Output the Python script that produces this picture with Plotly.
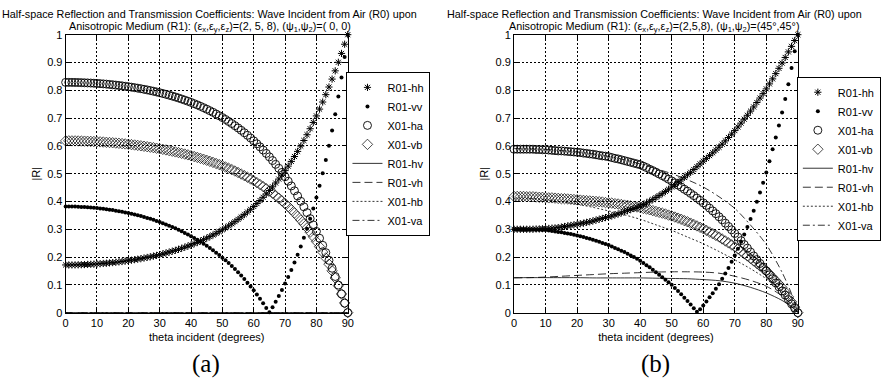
import plotly.graph_objects as go

# ---------------- data ----------------
THETA_DEG = list(range(0, 91))          # incidence angle, 1-degree steps
THETA_LINE_A = [0, 90]
THETA_LINE_B = [0, 5, 10, 15, 20, 25, 30, 35, 40, 45, 50, 55, 60, 65, 70, 75, 80, 85, 88, 90]

LEGEND_NAMES = ["R01-hh", "R01-vv", "X01-ha", "X01-vb", "R01-hv", "R01-vh", "X01-hb", "X01-va"]
X_TICKS = [0, 10, 20, 30, 40, 50, 60, 70, 80, 90]
Y_TICKS = [0, 0.1, 0.2, 0.3, 0.4, 0.5, 0.6, 0.7, 0.8, 0.9, 1]
Y_TICK_TEXT = ["0", "0.1", "0.2", "0.3", "0.4", "0.5", "0.6", "0.7", "0.8", "0.9", "1"]

# panel (a): psi = (0, 0)
A_R01_HH = [0.1716,0.1716,0.1717,0.1719,0.1721,0.1725,0.1730,0.1735,0.1740,0.1746,
            0.1753,0.1761,0.1770,0.1779,0.1790,0.1801,0.1814,0.1827,0.1841,0.1856,
            0.1871,0.1888,0.1906,0.1924,0.1944,0.1965,0.1987,0.2010,0.2035,0.2060,
            0.2087,0.2116,0.2145,0.2176,0.2209,0.2242,0.2278,0.2315,0.2354,0.2394,
            0.2437,0.2481,0.2527,0.2576,0.2626,0.2680,0.2735,0.2793,0.2853,0.2916,
            0.2981,0.3050,0.3122,0.3196,0.3274,0.3355,0.3440,0.3528,0.3620,0.3717,
            0.3820,0.3925,0.4035,0.4150,0.4271,0.4396,0.4527,0.4664,0.4806,0.4955,
            0.5110,0.5272,0.5441,0.5617,0.5801,0.5993,0.6193,0.6401,0.6617,0.6843,
            0.7078,0.7323,0.7577,0.7842,0.8117,0.8402,0.8699,0.9007,0.9326,0.9657,1.0]
A_R01_VV = [0.3820,0.3820,0.3819,0.3816,0.3812,0.3805,0.3799,0.3792,0.3783,0.3773,
            0.3762,0.3750,0.3737,0.3722,0.3706,0.3689,0.3670,0.3650,0.3629,0.3607,
            0.3583,0.3558,0.3531,0.3503,0.3473,0.3442,0.3409,0.3374,0.3338,0.3300,
            0.3260,0.3219,0.3175,0.3129,0.3082,0.3033,0.2981,0.2927,0.2870,0.2811,
            0.2751,0.2687,0.2620,0.2550,0.2478,0.2404,0.2326,0.2244,0.2159,0.2070,
            0.1978,0.1882,0.1782,0.1677,0.1567,0.1453,0.1334,0.1209,0.1079,0.0943,
            0.0802,0.0654,0.0499,0.0336,0.0166,0.0012,0.0199,0.0395,0.0601,0.0817,
            0.1045,0.1284,0.1536,0.1802,0.2082,0.2378,0.2691,0.3023,0.3374,0.3746,
            0.4142,0.4564,0.5013,0.5492,0.6004,0.6553,0.7142,0.7776,0.8460,0.9199,1.0]
A_X01_HA = [0.8284,0.8284,0.8283,0.8281,0.8279,0.8275,0.8270,0.8265,0.8260,0.8254,
            0.8247,0.8239,0.8230,0.8221,0.8210,0.8199,0.8186,0.8173,0.8159,0.8144,
            0.8129,0.8112,0.8094,0.8076,0.8056,0.8035,0.8013,0.7990,0.7965,0.7940,
            0.7913,0.7884,0.7855,0.7824,0.7791,0.7758,0.7722,0.7685,0.7646,0.7606,
            0.7563,0.7519,0.7473,0.7424,0.7374,0.7320,0.7265,0.7207,0.7147,0.7084,
            0.7019,0.6950,0.6878,0.6804,0.6726,0.6645,0.6560,0.6472,0.6380,0.6283,
            0.6180,0.6075,0.5965,0.5850,0.5729,0.5604,0.5473,0.5336,0.5194,0.5045,
            0.4890,0.4728,0.4559,0.4383,0.4199,0.4007,0.3807,0.3599,0.3383,0.3157,
            0.2922,0.2677,0.2423,0.2158,0.1883,0.1598,0.1301,0.0993,0.0674,0.0343,0.0]
A_X01_VB = [0.6180,0.6180,0.6179,0.6178,0.6176,0.6173,0.6170,0.6166,0.6161,0.6156,
            0.6150,0.6144,0.6137,0.6129,0.6121,0.6112,0.6102,0.6092,0.6081,0.6070,
            0.6058,0.6045,0.6031,0.6017,0.6002,0.5986,0.5970,0.5953,0.5935,0.5916,
            0.5895,0.5875,0.5854,0.5831,0.5808,0.5783,0.5758,0.5732,0.5705,0.5677,
            0.5647,0.5617,0.5585,0.5552,0.5518,0.5482,0.5445,0.5407,0.5367,0.5326,
            0.5283,0.5239,0.5193,0.5145,0.5095,0.5041,0.4986,0.4929,0.4870,0.4809,
            0.4745,0.4678,0.4609,0.4536,0.4460,0.4380,0.4297,0.4210,0.4118,0.4022,
            0.3921,0.3816,0.3704,0.3587,0.3464,0.3333,0.3196,0.3050,0.2896,0.2733,
            0.2560,0.2375,0.2179,0.1969,0.1745,0.1505,0.1248,0.0971,0.0672,0.0350,0.0]
A_R01_HV = [0.0, 0.0]
A_R01_VH = [0.0, 0.0]
A_X01_HB = [0.0, 0.0]
A_X01_VA = [0.0, 0.0]

# panel (b): psi = (45deg, 45deg)
B_R01_HH = [0.300,0.300,0.300,0.300,0.300,0.300,0.300,0.301,0.301,0.302,
            0.302,0.303,0.304,0.305,0.306,0.308,0.310,0.312,0.314,0.316,
            0.318,0.320,0.322,0.325,0.327,0.330,0.333,0.336,0.339,0.342,
            0.345,0.348,0.352,0.355,0.359,0.363,0.367,0.371,0.375,0.379,
            0.383,0.389,0.395,0.401,0.407,0.414,0.421,0.428,0.436,0.444,
            0.452,0.460,0.469,0.478,0.487,0.496,0.505,0.515,0.525,0.535,
            0.545,0.555,0.565,0.575,0.585,0.595,0.606,0.618,0.630,0.642,
            0.655,0.668,0.682,0.696,0.710,0.725,0.740,0.756,0.772,0.788,
            0.805,0.823,0.841,0.860,0.879,0.898,0.918,0.938,0.958,0.979,1.000]
B_R01_VV = [0.300,0.300,0.300,0.300,0.299,0.299,0.299,0.298,0.298,0.297,
            0.297,0.296,0.294,0.292,0.290,0.289,0.287,0.285,0.283,0.280,
            0.278,0.275,0.272,0.269,0.266,0.262,0.259,0.255,0.251,0.247,
            0.243,0.238,0.233,0.228,0.223,0.218,0.212,0.206,0.200,0.194,
            0.187,0.179,0.171,0.163,0.154,0.145,0.136,0.127,0.118,0.109,
            0.100,0.089,0.078,0.066,0.054,0.042,0.029,0.016,0.003,0.012,
            0.026,0.040,0.055,0.070,0.086,0.102,0.122,0.141,0.161,0.183,
            0.206,0.230,0.255,0.281,0.308,0.337,0.367,0.399,0.432,0.467,
            0.504,0.545,0.588,0.630,0.673,0.720,0.769,0.822,0.880,0.940,1.000]
B_X01_HA = [0.588,0.588,0.588,0.588,0.588,0.588,0.588,0.587,0.587,0.586,
            0.586,0.585,0.584,0.583,0.582,0.582,0.581,0.580,0.579,0.578,
            0.577,0.576,0.574,0.573,0.571,0.570,0.568,0.566,0.564,0.563,
            0.561,0.558,0.555,0.553,0.550,0.547,0.544,0.541,0.538,0.535,
            0.532,0.527,0.522,0.516,0.511,0.505,0.499,0.493,0.487,0.480,
            0.474,0.467,0.459,0.452,0.444,0.437,0.429,0.421,0.412,0.404,
            0.395,0.386,0.376,0.366,0.356,0.345,0.334,0.322,0.310,0.298,
            0.285,0.272,0.259,0.245,0.232,0.218,0.204,0.191,0.177,0.164,
            0.150,0.136,0.122,0.107,0.093,0.078,0.063,0.047,0.032,0.016,0.000]
B_X01_VB = [0.418,0.418,0.418,0.418,0.417,0.417,0.417,0.416,0.415,0.415,
            0.414,0.413,0.413,0.412,0.411,0.410,0.410,0.409,0.408,0.407,
            0.406,0.405,0.404,0.403,0.402,0.401,0.400,0.399,0.398,0.396,
            0.395,0.394,0.392,0.391,0.389,0.387,0.386,0.384,0.382,0.380,
            0.378,0.375,0.373,0.370,0.367,0.364,0.361,0.358,0.355,0.351,
            0.348,0.344,0.340,0.336,0.331,0.327,0.322,0.317,0.312,0.307,
            0.302,0.296,0.290,0.284,0.278,0.272,0.265,0.258,0.251,0.244,
            0.237,0.229,0.221,0.212,0.204,0.195,0.186,0.177,0.168,0.159,
            0.150,0.139,0.127,0.115,0.103,0.090,0.074,0.057,0.039,0.020,0.000]
B_R01_HV = [0.126,0.126,0.126,0.126,0.126,0.125,0.125,0.125,0.125,0.124,
            0.123,0.122,0.119,0.115,0.106,0.091,0.071,0.044,0.021,0.0]
B_R01_VH = [0.125,0.126,0.128,0.131,0.134,0.137,0.140,0.142,0.144,0.146,
            0.147,0.147,0.146,0.142,0.131,0.116,0.095,0.060,0.030,0.0]
B_X01_HB = [0.412,0.411,0.406,0.399,0.390,0.379,0.366,0.352,0.336,0.316,
            0.296,0.272,0.248,0.220,0.190,0.158,0.122,0.078,0.040,0.0]
B_X01_VA = [0.590,0.589,0.587,0.583,0.578,0.571,0.562,0.550,0.535,0.518,
            0.500,0.478,0.452,0.417,0.375,0.315,0.245,0.145,0.068,0.0]

TITLE_LINE1 = "Half-space Reflection and Transmission Coefficients: Wave Incident from Air (R0) upon"
TITLE_A_LINE2 = ("Anisotropic Medium (R1): (ε<sub>x</sub>,ε<sub>y</sub>,ε<sub>z</sub>)=(2, 5, 8), "
                 "(ψ<sub>1</sub>,ψ<sub>2</sub>)=( 0, 0)")
TITLE_B_LINE2 = ("Anisotropic Medium (R1): (ε<sub>x</sub>,ε<sub>y</sub>,ε<sub>z</sub>)=(2,5,8), "
                 "(ψ<sub>1</sub>,ψ<sub>2</sub>)=(45°,45°)")

# ---------------- styling ----------------
FONT = 'Arial, "Liberation Sans", sans-serif'
SERIF = '"Times New Roman", "Liberation Serif", serif'
BLACK = "#000000"
W, H = 886, 386

MARKER_STYLES = [
    dict(symbol="asterisk-open", size=6, color=BLACK, line=dict(color=BLACK, width=1)),
    dict(symbol="circle", size=4, color=BLACK, line=dict(width=0)),
    dict(symbol="circle-open", size=8, color=BLACK, line=dict(color=BLACK, width=0.9)),
    dict(symbol="diamond-open", size=8, color=BLACK, line=dict(color=BLACK, width=0.7)),
]
LINE_DASHES = ["solid", "8px,4px", "2px,2px", "7px,3px,2px,3px"]

fig = go.Figure()


def add_panel(xa, ya, legend_id, marker_series, line_x, line_series):
    for name, ys, mk in zip(LEGEND_NAMES[:4], marker_series, MARKER_STYLES):
        fig.add_trace(go.Scatter(x=THETA_DEG, y=ys, mode="markers", name=name,
                                 marker=mk, xaxis=xa, yaxis=ya, legend=legend_id,
                                 cliponaxis=False))
    for name, ys, dash in zip(LEGEND_NAMES[4:], line_series, LINE_DASHES):
        fig.add_trace(go.Scatter(x=line_x, y=ys, mode="lines", name=name,
                                 line=dict(color=BLACK, width=0.8, dash=dash, shape="spline",
                                           smoothing=0.8),
                                 xaxis=xa, yaxis=ya, legend=legend_id))


add_panel("x", "y", "legend",
          [A_R01_HH, A_R01_VV, A_X01_HA, A_X01_VB], THETA_LINE_A,
          [A_R01_HV, A_R01_VH, A_X01_HB, A_X01_VA])
add_panel("x2", "y2", "legend2",
          [B_R01_HH, B_R01_VV, B_X01_HA, B_X01_VB], THETA_LINE_B,
          [B_R01_HV, B_R01_VH, B_X01_HB, B_X01_VA])

Y_DOMAIN = [1 - 316.5 / H, 1 - 29.6 / H]
A_DOMAIN = [63.3 / W, 348.3 / W]
B_DOMAIN = [516.3 / W, 803.0 / W]

axis_common = dict(
    showline=True, linecolor=BLACK, linewidth=1, mirror="ticks",
    ticks="inside", ticklen=4, tickcolor=BLACK, tickwidth=1,
    showgrid=True, gridcolor=BLACK, gridwidth=0.8, griddash="2px,2px",
    zeroline=False, tickfont=dict(family=FONT, size=11, color=BLACK),
)
xaxis_common = dict(axis_common, range=[0, 90], tickvals=X_TICKS,
                    title=dict(text="theta incident (degrees)",
                               font=dict(family=FONT, size=11, color=BLACK), standoff=5))
yaxis_common = dict(axis_common, range=[0, 1], tickvals=Y_TICKS, ticktext=Y_TICK_TEXT,
                    title=dict(text="|R|", font=dict(family=FONT, size=11, color=BLACK),
                               standoff=4))

legend_common = dict(
    xanchor="left", yanchor="top", bgcolor="white", bordercolor=BLACK, borderwidth=1,
    font=dict(family=FONT, size=11, color=BLACK), traceorder="normal",
    itemwidth=30, tracegroupgap=0,
)


def text_ann(text, xpx, ypx, size=10.8, family=FONT):
    return dict(text=text, x=xpx / W, y=1 - ypx / H, xref="paper", yref="paper",
                xanchor="center", yanchor="middle", showarrow=False,
                font=dict(family=family, size=size, color=BLACK))


fig.update_layout(
    width=W, height=H, margin=dict(l=0, r=0, t=0, b=0),
    paper_bgcolor="white", plot_bgcolor="white",
    font=dict(family=FONT, size=11, color=BLACK),
    xaxis=dict(xaxis_common, domain=A_DOMAIN, anchor="y"),
    yaxis=dict(yaxis_common, domain=Y_DOMAIN, anchor="x"),
    xaxis2=dict(xaxis_common, domain=B_DOMAIN, anchor="y2"),
    yaxis2=dict(yaxis_common, domain=Y_DOMAIN, anchor="x2"),
    legend=dict(legend_common, x=347 / W, y=1 - 68 / H),
    legend2=dict(legend_common, x=802 / W, y=1 - 73 / H),
    annotations=[
        text_ann(TITLE_LINE1, 209, 8),
        text_ann(TITLE_A_LINE2, 209, 21.5),
        text_ann(TITLE_LINE1, 658, 8),
        text_ann(TITLE_B_LINE2, 658, 21.5),
        text_ann("(a)", 205, 370, 25, SERIF),
        text_ann("(b)", 659, 370, 25, SERIF),
    ],
)

fig.write_html("out.html")
